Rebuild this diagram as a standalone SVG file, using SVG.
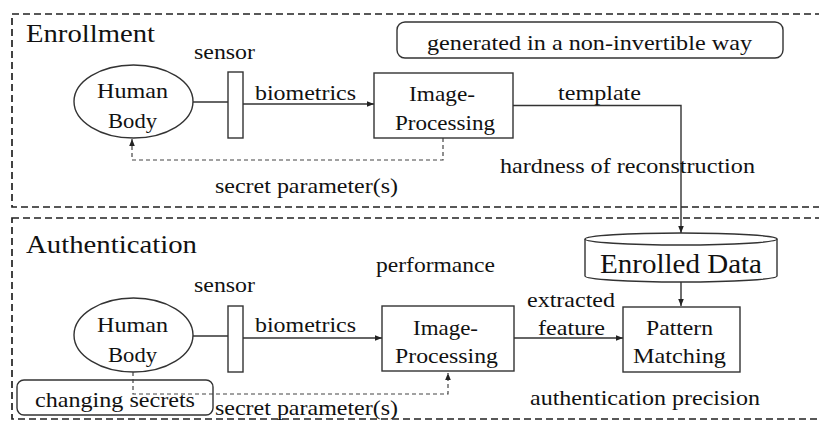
<svg xmlns="http://www.w3.org/2000/svg" width="819" height="421" viewBox="0 0 819 421">
<defs>
<style>
text{font-family:'Liberation Serif','DejaVu Serif','Times New Roman',Times,serif;fill:#111;font-size:22px}
.title{font-size:26px}
.big{font-size:28px}
.frame{fill:none;stroke:#222;stroke-width:1.7;stroke-dasharray:7 4}
.node{fill:#fff;stroke:#333;stroke-width:1.4}
.line{fill:none;stroke:#333;stroke-width:1.4}
.dash{fill:none;stroke:#444;stroke-width:1.2;stroke-dasharray:4 3}
</style>
<marker id="ah" viewBox="0 0 10 10" refX="10" refY="5" markerWidth="7" markerHeight="7" markerUnits="userSpaceOnUse" orient="auto">
<path d="M0,1 L10,5 L0,9 Z" fill="#222"/>
</marker>
</defs>
<rect width="819" height="421" fill="#fff"/>
<g font-family="Liberation Serif, DejaVu Serif, serif">
<g id="frames">
<rect class="frame" x="12" y="14" width="830" height="193"/>
<rect class="frame" x="12" y="218" width="830" height="201"/>
<text class="title" x="26" y="42" textLength="129" lengthAdjust="spacingAndGlyphs">Enrollment</text>
<text class="title" x="26" y="253" textLength="171" lengthAdjust="spacingAndGlyphs">Authentication</text>
</g>

<g id="connectors">
<line class="line" x1="193" y1="102" x2="228" y2="102"/>
<line class="line" x1="243" y1="104" x2="374" y2="104" marker-end="url(#ah)"/>
<polyline class="line" points="513,105.5 681,105.5 681,233" marker-end="url(#ah)"/>
<polyline class="dash" points="443,138 443,160 132,160 132,139" marker-end="url(#ah)"/>
<line class="line" x1="193" y1="336" x2="228" y2="336"/>
<line class="line" x1="243" y1="338" x2="382" y2="338" marker-end="url(#ah)"/>
<line class="line" x1="681" y1="282" x2="681" y2="306" marker-end="url(#ah)"/>
<line class="line" x1="514" y1="338" x2="623" y2="338" marker-end="url(#ah)"/>
</g>

<g id="enroll-body">
<ellipse class="node" cx="133.5" cy="101.5" rx="59.5" ry="36.5"/>
<text x="97" y="98" textLength="71" lengthAdjust="spacingAndGlyphs">Human</text>
<text x="108" y="128" textLength="49" lengthAdjust="spacingAndGlyphs">Body</text>
</g>
<g id="enroll-sensor">
<rect class="node" x="228" y="72" width="15" height="66"/>
<text x="194" y="59" textLength="61" lengthAdjust="spacingAndGlyphs">sensor</text>
</g>
<g id="enroll-image-processing">
<rect class="node" x="374" y="73" width="139" height="65"/>
<text x="409" y="101" textLength="66" lengthAdjust="spacingAndGlyphs">Image-</text>
<text x="395" y="130" textLength="100" lengthAdjust="spacingAndGlyphs">Processing</text>
</g>
<g id="note-noninvertible">
<rect class="node" x="397" y="22" width="386" height="36" rx="8"/>
<text x="427" y="50" textLength="325" lengthAdjust="spacingAndGlyphs">generated in a non-invertible way</text>
</g>
<g id="enroll-labels">
<text x="255" y="100" textLength="101" lengthAdjust="spacingAndGlyphs">biometrics</text>
<text x="558" y="100" textLength="83" lengthAdjust="spacingAndGlyphs">template</text>
<text x="500" y="173" textLength="255" lengthAdjust="spacingAndGlyphs">hardness of reconstruction</text>
<text x="215" y="193" textLength="183" lengthAdjust="spacingAndGlyphs">secret parameter(s)</text>
</g>

<g id="enrolled-data">
<path class="node" d="M585,239 L585,276 A96,6 0 0 0 777,276 L777,239"/>
<ellipse class="node" cx="681" cy="239" rx="96" ry="6"/>
<text class="big" x="600" y="273" textLength="162" lengthAdjust="spacingAndGlyphs">Enrolled Data</text>
</g>

<g id="auth-body">
<ellipse class="node" cx="133.5" cy="335" rx="59.5" ry="37"/>
<text x="97" y="332" textLength="71" lengthAdjust="spacingAndGlyphs">Human</text>
<text x="108" y="362" textLength="49" lengthAdjust="spacingAndGlyphs">Body</text>
</g>
<g id="auth-sensor">
<rect class="node" x="228" y="306" width="15" height="66"/>
<text x="194" y="292" textLength="61" lengthAdjust="spacingAndGlyphs">sensor</text>
</g>
<g id="auth-image-processing">
<rect class="node" x="382" y="306" width="132" height="65"/>
<text x="413" y="335" textLength="65" lengthAdjust="spacingAndGlyphs">Image-</text>
<text x="395" y="363" textLength="103" lengthAdjust="spacingAndGlyphs">Processing</text>
</g>
<g id="pattern-matching">
<rect class="node" x="623" y="307" width="117" height="65"/>
<text x="646" y="335" textLength="67" lengthAdjust="spacingAndGlyphs">Pattern</text>
<text x="633" y="363" textLength="93" lengthAdjust="spacingAndGlyphs">Matching</text>
</g>
<g id="note-changing-secrets">
<rect class="node" x="17" y="380" width="196" height="35" rx="7"/>
<text x="35" y="407" textLength="160" lengthAdjust="spacingAndGlyphs">changing secrets</text>
</g>
<g id="auth-dashed">
<polyline class="dash" points="133,372 133,394 448,394 448,373" marker-end="url(#ah)"/>
</g>
<g id="auth-labels">
<text x="376" y="272" textLength="119" lengthAdjust="spacingAndGlyphs">performance</text>
<text x="255" y="332" textLength="101" lengthAdjust="spacingAndGlyphs">biometrics</text>
<text x="527" y="307" textLength="88" lengthAdjust="spacingAndGlyphs">extracted</text>
<text x="538" y="335" textLength="67" lengthAdjust="spacingAndGlyphs">feature</text>
<text x="530" y="405" textLength="230" lengthAdjust="spacingAndGlyphs">authentication precision</text>
<text x="215" y="415" textLength="183" lengthAdjust="spacingAndGlyphs">secret parameter(s)</text>
</g>
</g>
</svg>
